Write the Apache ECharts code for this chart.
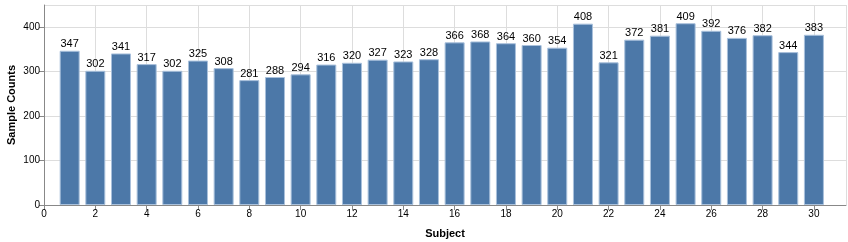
<!DOCTYPE html>
<html><head><meta charset="utf-8">
<script src="https://cdn.jsdelivr.net/npm/echarts@6/dist/echarts.min.js"></script>
<style>html,body{margin:0;padding:0;background:#fff}#c{width:848px;height:242px}</style>
</head><body><div id="c"></div>
<script>
const subjects = [1,2,3,4,5,6,7,8,9,10,11,12,13,14,15,16,17,18,19,20,21,22,23,24,25,26,27,28,29,30];
const counts = [347,302,341,317,302,325,308,281,288,294,316,320,327,323,328,366,368,364,360,354,408,321,372,381,409,392,376,382,344,383];
const xTitle = 'Subject';
const yTitle = 'Sample Counts';
const font = 'Liberation Sans, Arial, sans-serif';
const chart = echarts.init(document.getElementById('c'), null, {renderer:'canvas'});
chart.setOption({
  animation:false,
  grid:{left:44,right:2,top:5,bottom:37,containLabel:false,outerBoundsMode:'none'},
  xAxis:{type:'value',min:0,max:31.25,interval:2,
    name:xTitle,nameLocation:'middle',nameGap:23,nameMoveOverlap:false,
    nameTextStyle:{fontFamily:font,fontSize:11,fontWeight:'bold',color:'#000'},
    axisLine:{show:true,lineStyle:{color:'#888'}},
    axisTick:{show:true,length:5,lineStyle:{color:'#888'}},
    axisLabel:{fontFamily:font,fontSize:10,color:'#000',margin:4,showMaxLabel:false},
    splitLine:{show:true,lineStyle:{color:'#ddd'}}
  },
  yAxis:{type:'value',min:0,max:450,interval:100,
    name:yTitle,nameLocation:'middle',nameGap:27,nameRotate:90,nameMoveOverlap:false,
    nameTextStyle:{fontFamily:font,fontSize:11,fontWeight:'bold',color:'#000'},
    axisLine:{show:true,lineStyle:{color:'#888'}},
    axisTick:{show:true,length:5,lineStyle:{color:'#888'}},
    axisLabel:{fontFamily:font,fontSize:10,color:'#000',margin:4,showMaxLabel:false},
    splitLine:{show:true,lineStyle:{color:'#ddd'}}
  },
  series:[{type:'bar',barWidth:20,
    data:subjects.map((s,i)=>[s,counts[i]]),
    itemStyle:{color:'#4c78a8',borderColor:'#a9c1dc',borderWidth:1},
    label:{show:true,position:'top',distance:1,fontFamily:font,fontSize:11,color:'#000',
      formatter:p=>p.value[1]}
  }]
});
</script></body></html>
